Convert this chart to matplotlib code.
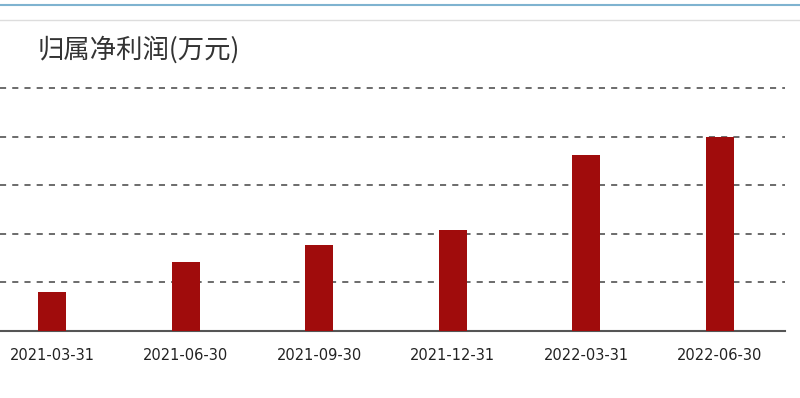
import numpy as np
import matplotlib
matplotlib.use('Agg')
import matplotlib.pyplot as plt
from matplotlib.lines import Line2D

plt.rcParams['font.family'] = ['Noto Sans CJK SC', 'DejaVu Sans']

# data (units = gridline steps, y axis has no labels)
dates = ['2021-03-31', '2021-06-30', '2021-09-30', '2021-12-31', '2022-03-31', '2022-06-30']
profit = [0.80, 1.41, 1.76, 2.08, 3.63, 4.00]
title = '归属净利润(万元)'

W, H = 800, 398
fig = plt.figure(figsize=(W / 100, H / 100), dpi=100)
fig.patch.set_facecolor('white')

# axes placed in pixel coords: x 0..785, y 331 (base) .. 78 (a bit above top gridline at 88)
ytop = 5 + 10 / 48.6
ax = fig.add_axes([0 / W, (H - 331) / H, 785 / W, (331 - 78) / H])
x = np.arange(len(dates))
ax.bar(x, profit, width=0.21, color='#a00c0c', zorder=3)
ax.set_xlim(-0.39, 5.49)
ax.set_ylim(0, ytop)
ax.set_yticks([1, 2, 3, 4, 5])
ax.set_yticklabels([])
ax.tick_params(axis='y', length=0)
ax.tick_params(axis='x', length=0, pad=12)
ax.set_xticks(x)
ax.set_xticklabels(dates, fontsize=10.5, color='#222222', fontfamily='DejaVu Sans')
ax.grid(axis='y', linestyle=(0, (4, 4)), color='#444444', linewidth=1.1, zorder=1)
for s in ['top', 'right', 'left']:
    ax.spines[s].set_visible(False)
ax.spines['bottom'].set_color('#555555')
ax.spines['bottom'].set_linewidth(1.5)

# frame lines at top of picture
fig.add_artist(Line2D([0, 1], [1 - 5 / H, 1 - 5 / H], color='#7fb3d0', linewidth=1.5))
fig.add_artist(Line2D([0, 1], [1 - 20 / H, 1 - 20 / H], color='#dddddd', linewidth=1.0))

fig.text(38 / W, 1 - 50 / H, title, fontsize=19, color='#333333', va='center', ha='left')

fig.savefig('out.png', dpi=100)
